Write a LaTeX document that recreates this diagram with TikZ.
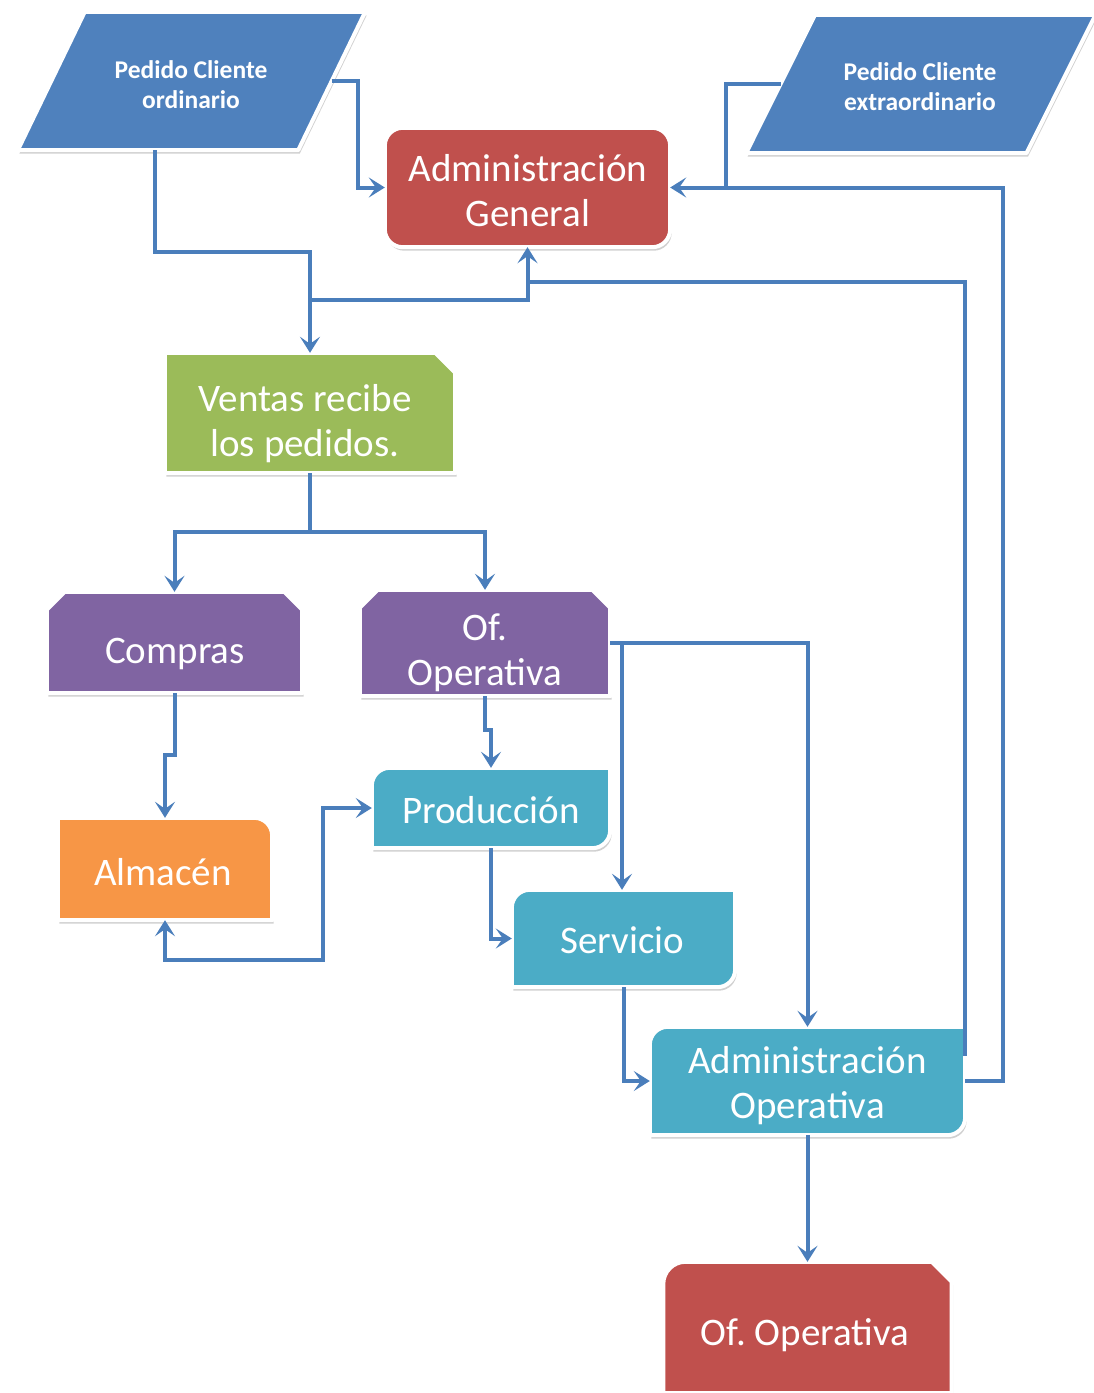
\documentclass[tikz,border=0pt]{standalone}
\usepackage{fontspec}
\setmainfont{Carlito}
\frenchspacing
\usetikzlibrary{arrows.meta,backgrounds,shadows,calc}
\definecolor{cblue}{HTML}{4F81BD}
\definecolor{cline}{HTML}{4A7EBB}
\definecolor{cred}{HTML}{C0504D}
\definecolor{cgreen}{HTML}{9BBB59}
\definecolor{cpurple}{HTML}{8064A2}
\definecolor{corange}{HTML}{F79646}
\definecolor{cteal}{HTML}{4BACC6}
\tikzset{
  shp/.style={draw=white, line width=4pt, line join=round,
    drop shadow={shadow xshift=1.5pt, shadow yshift=-3.5pt, opacity=0.3, fill=black!60}},
  box/.style={draw=none, inner sep=0pt, minimum width=#1},
  bigtxt/.style={text=white, align=center, inner sep=0pt,
    font=\fontsize{39}{45}\selectfont},
  smalltxt/.style={text=white, align=center, inner sep=0pt,
    font=\bfseries\fontsize{25.5}{30}\selectfont},
  conn/.style={draw=cline, line width=4pt},
  tip/.tip={Stealth[length=16pt,width=20pt,inset=7pt]},
  arr/.style={conn, -tip},
  darr/.style={conn, tip-tip}
}
\begin{document}
\begin{tikzpicture}[x=1pt,y=-1pt]
\useasboundingbox (0,0) rectangle (1094,1393);
\begin{scope}[on background layer]
  \fill[white] (0,0) rectangle (1094,1393);
\end{scope}

% shape boxes (named nodes)
\node[box=280pt, minimum height=138pt] (pc1) at (191.5,81) {};
\node[box=280pt, minimum height=138pt] (pc2) at (920.75,84) {};
\node[box=285pt, minimum height=119pt] (ag) at (527.5,187.5) {};
\node[box=290pt, minimum height=120pt] (ven) at (310,413) {};
\node[box=255pt, minimum height=101pt] (comp) at (174.5,642.5) {};
\node[box=250pt, minimum height=106pt] (ofo) at (485,643) {};
\node[box=214pt, minimum height=102pt] (alm) at (165,869) {};
\node[box=238pt, minimum height=80pt] (prod) at (491,808) {};
\node[box=223pt, minimum height=97pt] (serv) at (623.5,938.5) {};
\node[box=315pt, minimum height=108pt] (ao) at (807.5,1081) {};
\node[box=288pt, minimum height=131pt] (ofr) at (807.5,1327.5) {};

% texts
\node[smalltxt] (pc1t) at (191,85) {Pedido Cliente\\ordinario};
\node[smalltxt] (pc2t) at (920,87) {Pedido Cliente\\extraordinario};
\node[bigtxt] (agt) at (528,191) {Administración\\General};
\node[bigtxt] (vent) at (305,424) {Ventas recibe\\los pedidos.};
\node[bigtxt] (compt) at (175,654) {Compras};
\node[bigtxt] (ofot) at (485,653) {Of.\\Operativa};
\node[bigtxt] (almt) at (163,872) {Almacén};
\node[bigtxt] (prodt) at (491,810) {Producción};
\node[bigtxt] (servt) at (622.5,940.5) {Servicio};
\node[bigtxt] (aot) at (807.5,1086) {Administración\\Operativa};
\node[bigtxt] (ofrt) at (805,1335) {Of. Operativa};

% shapes behind
\begin{scope}[on background layer]
  \path[shp, fill=cblue] ([xshift=-33.5pt]pc1.south west) -- ([xshift=33.5pt]pc1.north west)
     -- ([xshift=33.5pt]pc1.north east) -- ([xshift=-33.5pt]pc1.south east) -- cycle;
  \path[shp, fill=cblue] ([xshift=-34.5pt]pc2.south west) -- ([xshift=34.5pt]pc2.north west)
     -- ([xshift=34.5pt]pc2.north east) -- ([xshift=-34.5pt]pc2.south east) -- cycle;
  \path[shp, fill=cred, rounded corners=18pt] (ag.south west) rectangle (ag.north east);
  \path[shp, fill=cgreen] (ven.south west) -- (ven.north west) -- ([xshift=-20pt]ven.north east)
     -- ([yshift=-20pt]ven.north east) -- (ven.south east) -- cycle;
  \foreach \n in {comp,ofo}{
    \path[shp, fill=cpurple] (\n.south west) -- ([yshift=-18pt]\n.north west) -- ([xshift=18pt]\n.north west)
       -- ([xshift=-18pt]\n.north east) -- ([yshift=-18pt]\n.north east) -- (\n.south east) -- cycle;
  }
  \path[shp, fill=corange] (alm.south west) -- (alm.north west) -- ([xshift=-18pt]alm.north east)
     .. controls ([xshift=-8pt]alm.north east) and ([yshift=-8pt]alm.north east) .. ([yshift=-18pt]alm.north east)
     -- (alm.south east) -- cycle;
  \foreach \n in {prod,serv,ao}{
    \path[shp, fill=cteal] (\n.south west) -- ([yshift=-18pt]\n.north west)
       .. controls ([yshift=-8pt]\n.north west) and ([xshift=8pt]\n.north west) .. ([xshift=18pt]\n.north west)
       -- (\n.north east) -- ([yshift=18pt]\n.south east)
       .. controls ([yshift=8pt]\n.south east) and ([xshift=-8pt]\n.south east) .. ([xshift=-18pt]\n.south east)
       -- cycle;
  }
  \path[shp, fill=cred] (ofr.south west) -- ([yshift=-22pt]ofr.north west)
     .. controls ([yshift=-10pt]ofr.north west) and ([xshift=10pt]ofr.north west) .. ([xshift=22pt]ofr.north west)
     -- ([xshift=-20pt]ofr.north east) -- ([yshift=-20pt]ofr.north east) -- (ofr.south east) -- cycle;
\end{scope}

% junction coordinates
\coordinate (j1) at (310,252);
\coordinate (j2) at (310,300);
\coordinate (j3) at (527.5,282);
\coordinate (j5) at (726,187.5);
\coordinate (j6) at (310,532);
\coordinate (j7) at (622,643);
\coordinate (j8) at (323,960);

% connectors
\draw[arr] ([xshift=-36.5pt]pc1.south) |- (j1) -- (ven.north);
\draw[arr] (j2) -| (ag.south);
\draw[conn] ([yshift=25pt]ao.east) |- (j3);
\draw[arr] (pc1.east) -- ++(26,0) |- (ag.west);
\draw[arr] (pc2.west) -- ++(-54.75,0) |- (ag.east);
\draw[conn] (ao.east) -- ++(38,0) |- (j5);
\draw[conn] (ven.south) -- (j6);
\draw[arr] (j6) -| (comp.north);
\draw[arr] (j6) -| (ofo.north);
\draw[arr] (comp.south) -- ++(0,62) -| (alm.north);
\draw[arr] (ofo.south) -- ++(0,34) -| (prod.north);
\draw[arr] (ofo.east) -| (ao.north);
\draw[arr] (j7) -- (j7 |- serv.north);
\draw[arr] (prod.south) |- (serv.west);
\draw[darr] (alm.south) |- (j8) |- (prod.west);
\draw[arr] (serv.south) |- (ao.west);
\draw[arr] (ao.south) -- (ofr.north);
\end{tikzpicture}
\end{document}
